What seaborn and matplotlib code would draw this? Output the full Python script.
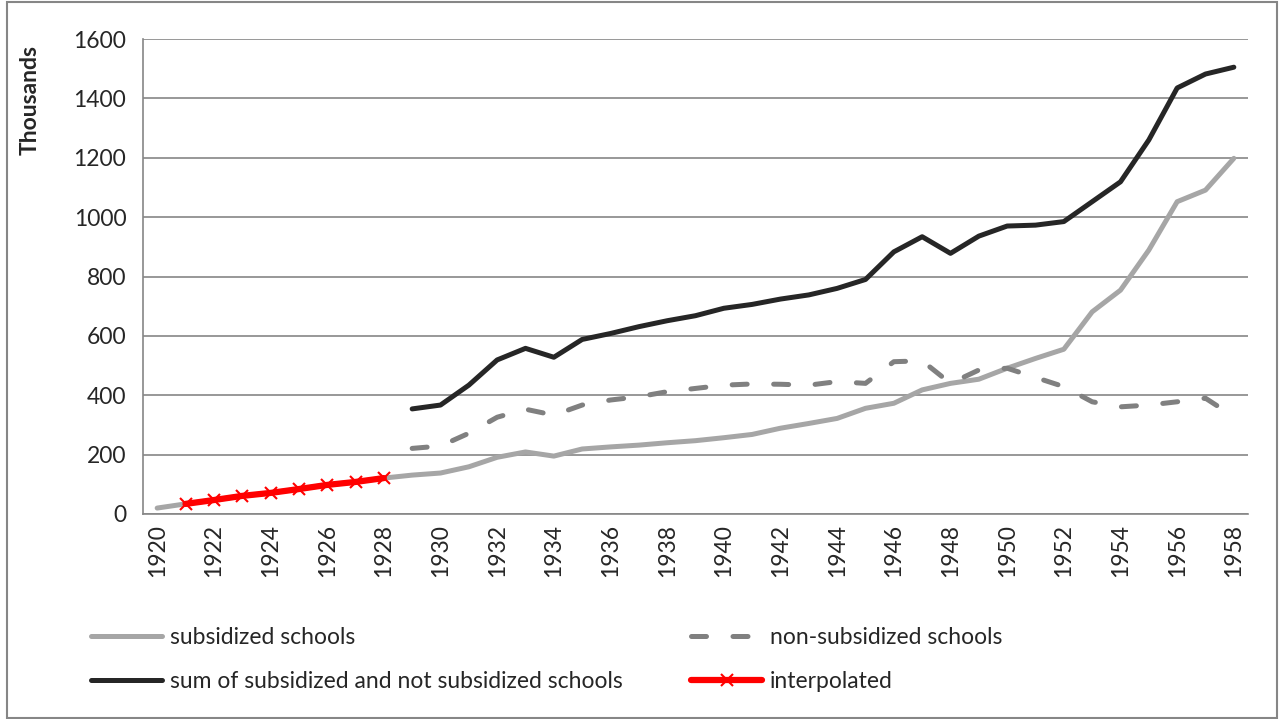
import matplotlib
matplotlib.use("Agg")
import matplotlib.pyplot as plt
import pandas as pd
import seaborn as sns
from matplotlib.lines import Line2D
from matplotlib.patches import Rectangle

# values (thousands of pupils)
years = list(range(1920, 1959))
subsidized = [20, 34, 47, 61, 71, 84, 98, 108, 121, 131, 138, 159, 191, 209, 195,
              219, 226, 232, 240, 247, 257, 268, 289, 305, 322, 356, 373, 418, 440,
              454, 491, 524, 555, 681, 754, 889, 1052, 1091, 1198]

later_years = list(range(1929, 1959))
non_subsidized = [221, 229, 272, 326, 353, 333, 367, 384, 395, 412, 423, 434, 438,
                  437, 434, 446, 440, 513, 516, 440, 485, 491, 460, 429, 378, 361,
                  367, 378, 390, 328]
total = [354, 367, 434, 519, 558, 528, 588, 608, 631, 651, 668, 693, 706, 724, 738,
         760, 790, 883, 934, 878, 936, 970, 973, 985, 1052, 1119, 1260, 1435, 1482,
         1505]

interp_years = list(range(1921, 1929))
interpolated = [34, 47, 61, 71, 84, 98, 108, 121]

labels = ["subsidized schools", "non-subsidized schools",
          "sum of subsidized and not subsidized schools", "interpolated"]

sns.set_style("white")
plt.rcParams["font.family"] = ["Lato", "DejaVu Sans"]

fig = plt.figure(figsize=(12.8, 7.19), dpi=100)
ax = fig.add_axes([143 / 1280, 1 - 514 / 719, 1105 / 1280, 475 / 719])

c_sub, c_non, c_sum, c_red = "#A6A6A6", "#808080", "#262626", "#FF0000"
grid_c = "#868686"
lw = 3.6
dash = [3.0, 5.3]
fs = 16.5

df_sub = pd.DataFrame({"year": years, "value": subsidized})
df_non = pd.DataFrame({"year": later_years, "value": non_subsidized})
df_sum = pd.DataFrame({"year": later_years, "value": total})
df_int = pd.DataFrame({"year": interp_years, "value": interpolated})

sns.lineplot(data=df_sub, x="year", y="value", ax=ax, color=c_sub, lw=lw,
             solid_capstyle="round", zorder=3)
sns.lineplot(data=df_non, x="year", y="value", ax=ax, color=c_non, lw=lw,
             dashes=False, zorder=4)
ax.lines[-1].set_dashes(dash)
ax.lines[-1].set_dash_capstyle("round")
sns.lineplot(data=df_sum, x="year", y="value", ax=ax, color=c_sum, lw=lw,
             solid_capstyle="round", zorder=5)
sns.lineplot(data=df_int, x="year", y="value", ax=ax, color=c_red, lw=4.5,
             marker="x", markersize=9, markeredgewidth=1.5, markeredgecolor=c_red,
             zorder=6)

ax.set_xlim(1919.5, 1958.5)
ax.set_ylim(0, 1600)
ax.set_yticks(range(0, 1601, 200))
ax.set_xticks(years[::2])
ax.set_xticklabels([str(y) for y in years[::2]], rotation=90)
ax.set_xticks([y - 0.5 for y in years] + [1958.5], minor=True)
ax.tick_params(axis="x", which="major", length=0, pad=7, labelsize=fs)
ax.tick_params(axis="x", which="minor", length=7, width=1.2, color=grid_c, direction="out")
ax.tick_params(axis="y", length=7, width=1.2, color=grid_c, direction="out",
               labelsize=fs, pad=5)
ax.yaxis.grid(True, color=grid_c, lw=1.2)
ax.set_axisbelow(True)
ax.set_xlabel("")
ax.set_ylabel("")
for s in ["top", "right"]:
    ax.spines[s].set_visible(False)
for s in ["left", "bottom"]:
    ax.spines[s].set_color(grid_c)
    ax.spines[s].set_linewidth(1.2)

fig.text(30 / 1280, 1 - 100 / 719, "Thousands", rotation=90, ha="center", va="center",
         fontsize=fs, fontweight="bold")

handles = [
    Line2D([], [], color=c_sub, lw=lw),
    Line2D([], [], color=c_sum, lw=lw),
    Line2D([], [], color=c_non, lw=lw, dashes=dash, dash_capstyle="round"),
    Line2D([], [], color=c_red, lw=4.5, marker="x", markersize=9, markeredgewidth=1.5),
]
fig.legend(handles, [labels[0], labels[2], labels[1], labels[3]], ncol=2,
           loc="upper left", bbox_to_anchor=(70 / 1280, 1 - 606 / 719),
           frameon=False, fontsize=fs, handlelength=3.1, handletextpad=0.35,
           columnspacing=3.0, labelspacing=1.0, numpoints=1)

fig.patches.append(Rectangle((7 / 1280, 1 / 719), 1270 / 1280, 716 / 719,
                             transform=fig.transFigure, fill=False,
                             edgecolor=grid_c, lw=1.5))

fig.savefig("out.png", dpi=100)
